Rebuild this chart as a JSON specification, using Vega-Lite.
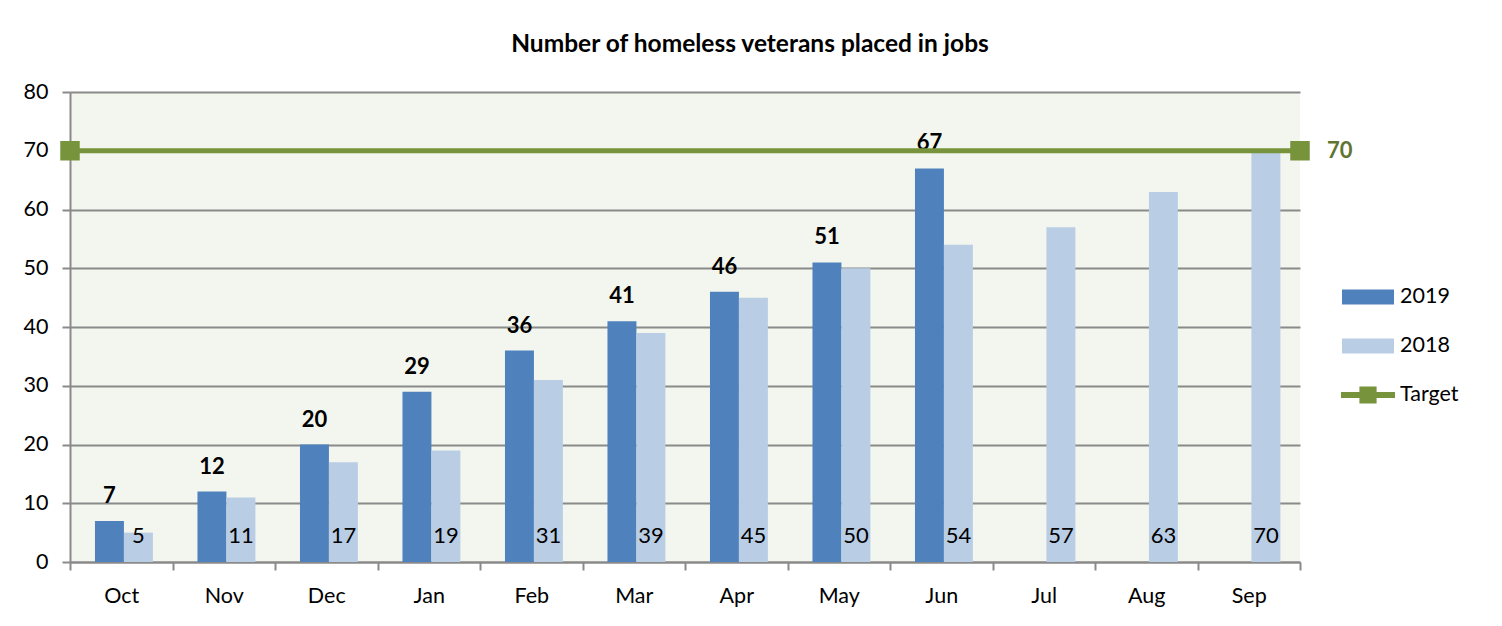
{
  "$schema": "https://vega.github.io/schema/vega-lite/v6.json",
  "autosize": "none",
  "width": 1230,
  "height": 470,
  "padding": {"left": 70, "top": 92, "right": 202, "bottom": 64},
  "background": "white",
  "title": {
    "text": "Number of homeless veterans placed in jobs",
    "fontSize": 24.5,
    "fontWeight": "bold",
    "font": "Lato",
    "color": "#000000",
    "anchor": "middle",
    "dx": 65,
    "offset": 24
  },
  "config": {
    "font": "Lato",
    "view": {"fill": "#F3F6EE", "stroke": null}
  },
  "data": {
    "values": [
      {"month": "Oct", "year": "2019", "value": 7},
      {"month": "Nov", "year": "2019", "value": 12},
      {"month": "Dec", "year": "2019", "value": 20},
      {"month": "Jan", "year": "2019", "value": 29},
      {"month": "Feb", "year": "2019", "value": 36},
      {"month": "Mar", "year": "2019", "value": 41},
      {"month": "Apr", "year": "2019", "value": 46},
      {"month": "May", "year": "2019", "value": 51},
      {"month": "Jun", "year": "2019", "value": 67},
      {"month": "Oct", "year": "2018", "value": 5},
      {"month": "Nov", "year": "2018", "value": 11},
      {"month": "Dec", "year": "2018", "value": 17},
      {"month": "Jan", "year": "2018", "value": 19},
      {"month": "Feb", "year": "2018", "value": 31},
      {"month": "Mar", "year": "2018", "value": 39},
      {"month": "Apr", "year": "2018", "value": 45},
      {"month": "May", "year": "2018", "value": 50},
      {"month": "Jun", "year": "2018", "value": 54},
      {"month": "Jul", "year": "2018", "value": 57},
      {"month": "Aug", "year": "2018", "value": 63},
      {"month": "Sep", "year": "2018", "value": 70}
    ]
  },
  "layer": [
    {
      "mark": {"type": "bar"},
      "encoding": {
        "x": {
          "field": "month",
          "type": "nominal",
          "sort": ["Oct","Nov","Dec","Jan","Feb","Mar","Apr","May","Jun","Jul","Aug","Sep"],
          "scale": {"domain": ["Oct","Nov","Dec","Jan","Feb","Mar","Apr","May","Jun","Jul","Aug","Sep"], "paddingInner": 0, "paddingOuter": 0},
          "title": null,
          "axis": {
            "labelAngle": 0,
            "labelFontSize": 21.5,
            "labelColor": "#000000",
            "tickBand": "extent",
            "tickSize": 8,
            "tickColor": "#8A8A8A",
            "tickWidth": 2,
            "domainColor": "#8A8A8A",
            "domainWidth": 2,
            "labelPadding": 15,
            "grid": false
          }
        },
        "xOffset": {
          "field": "year",
          "type": "nominal",
          "scale": {"domain": ["2019","2018"], "paddingInner": 0, "paddingOuter": 0.77, "align": 0.56}
        },
        "y": {
          "field": "value",
          "type": "quantitative",
          "scale": {"domain": [0, 80]},
          "title": null,
          "axis": {
            "values": [0,10,20,30,40,50,60,70,80],
            "labelFontSize": 21.5,
            "labelColor": "#000000",
            "tickSize": 8,
            "tickColor": "#8A8A8A",
            "tickWidth": 2,
            "domainColor": "#8A8A8A",
            "domainWidth": 2,
            "gridColor": "#8A8A8A",
            "gridWidth": 2,
            "labelPadding": 14
          }
        },
        "color": {
          "field": "year",
          "type": "nominal",
          "scale": {"domain": ["2019","2018","Target"], "range": ["#4F81BD","#B9CDE5","#77933C"]},
          "legend": {
            "title": null,
            "orient": "none",
            "legendX": 1278,
            "legendY": 185,
            "labelFontSize": 21.5,
            "labelColor": "#000000",
            "symbolSize": 1600,
            "labelOffset": 12,
            "rowPadding": 18,
            "encode": {
              "symbols": {
                "update": {
                  "shape": {"signal": "datum.value === 'Target' ? 'M-1.35,-0.15H-0.43V-0.43H0.43V-0.15H1.35V0.15H0.43V0.43H-0.43V0.15H-1.35Z' : 'M-1.3,-0.375H1.3V0.375H-1.3Z'"},
                  "strokeWidth": {"value": 0}
                }
              }
            }
          }
        }
      }
    },
    {
      "transform": [{"filter": "datum.year === '2019'"}],
      "mark": {"type": "text", "fontSize": 22, "fontWeight": "bold", "baseline": "alphabetic", "dy": -18, "color": "#000000"},
      "encoding": {
        "x": {"field": "month", "type": "nominal"},
        "xOffset": {"field": "year", "type": "nominal"},
        "y": {"field": "value", "type": "quantitative"},
        "text": {"field": "value", "type": "quantitative"}
      }
    },
    {
      "transform": [{"filter": "datum.year === '2018'"}],
      "mark": {"type": "text", "fontSize": 22, "baseline": "alphabetic", "dy": -19, "color": "#000000"},
      "encoding": {
        "x": {"field": "month", "type": "nominal"},
        "xOffset": {"field": "year", "type": "nominal"},
        "y": {"datum": 0, "type": "quantitative"},
        "text": {"field": "value", "type": "quantitative"}
      }
    },
    {
      "data": {"values": [{"series": "Target", "target": 70}]},
      "mark": {"type": "rule", "strokeWidth": 5},
      "encoding": {
        "y": {"field": "target", "type": "quantitative"},
        "color": {"field": "series", "type": "nominal"}
      }
    },
    {
      "data": {"values": [{"series": "Target", "month": "Oct", "target": 70}]},
      "mark": {"type": "point", "shape": "square", "filled": true, "opacity": 1, "size": 380},
      "encoding": {
        "x": {"field": "month", "type": "nominal", "bandPosition": 0},
        "y": {"field": "target", "type": "quantitative"},
        "color": {"field": "series", "type": "nominal"}
      }
    },
    {
      "data": {"values": [{"series": "Target", "month": "Sep", "target": 70}]},
      "mark": {"type": "point", "shape": "square", "filled": true, "opacity": 1, "size": 380},
      "encoding": {
        "x": {"field": "month", "type": "nominal", "bandPosition": 1},
        "y": {"field": "target", "type": "quantitative"},
        "color": {"field": "series", "type": "nominal"}
      }
    },
    {
      "data": {"values": [{"series": "Target", "month": "Sep", "target": 70}]},
      "mark": {"type": "text", "fontSize": 22, "fontWeight": "bold", "align": "left", "baseline": "middle", "dx": 27, "color": "#5F7530"},
      "encoding": {
        "x": {"field": "month", "type": "nominal", "bandPosition": 1},
        "y": {"field": "target", "type": "quantitative"},
        "text": {"field": "target", "type": "quantitative"}
      }
    }
  ]
}
